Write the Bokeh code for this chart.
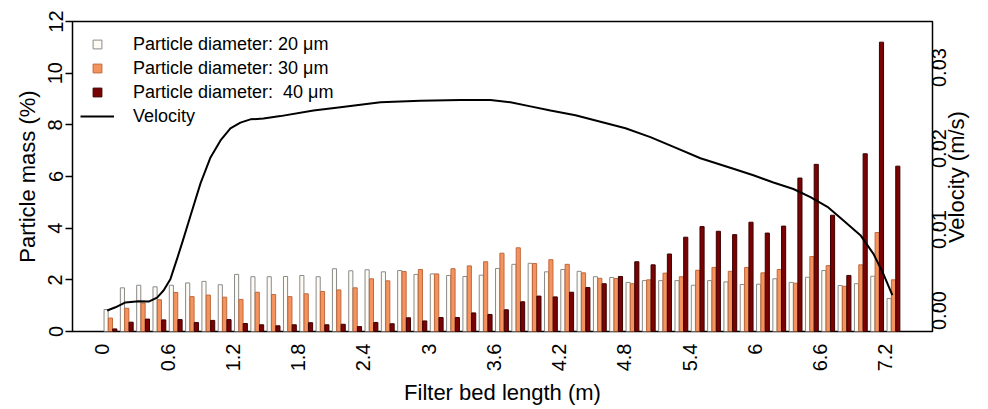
import math
from bokeh.plotting import figure
from bokeh.models import (ColumnDataSource, Range1d, LinearAxis, FixedTicker,
                          CustomJSTickFormatter, PrintfTickFormatter, Legend, LegendItem)
from bokeh.transform import dodge
from bokeh.embed import file_html
from bokeh.resources import INLINE

FONT = "Liberation Sans"

# ---- data ----
bed_position = [0.075, 0.225, 0.375, 0.525, 0.675, 0.825, 0.975, 1.125, 1.275, 1.425,
                1.575, 1.725, 1.875, 2.025, 2.175, 2.325, 2.475, 2.625, 2.775, 2.925,
                3.075, 3.225, 3.375, 3.525, 3.675, 3.825, 3.975, 4.125, 4.275, 4.425,
                4.575, 4.725, 4.875, 5.025, 5.175, 5.325, 5.475, 5.625, 5.775, 5.925,
                6.075, 6.225, 6.375, 6.525, 6.675, 6.825, 6.975, 7.125, 7.275]
mass_20um = [0.85, 1.69, 1.79, 1.73, 1.79, 1.88, 1.94, 1.81, 2.21, 2.12,
             2.12, 2.13, 2.17, 2.12, 2.43, 2.35, 2.39, 2.31, 2.36, 2.21,
             2.23, 2.17, 2.13, 2.18, 2.44, 2.60, 2.64, 2.31, 2.40, 2.33,
             2.12, 2.09, 1.90, 1.97, 1.97, 1.97, 1.79, 1.97, 1.92, 1.82,
             1.83, 2.04, 1.90, 2.10, 2.36, 1.78, 1.85, 2.14, 1.28]
mass_30um = [0.52, 0.90, 1.10, 1.23, 1.51, 1.35, 1.41, 1.33, 1.24, 1.52,
             1.43, 1.35, 1.46, 1.55, 1.61, 1.69, 2.04, 1.96, 2.32, 2.40,
             2.23, 2.43, 2.54, 2.70, 3.03, 3.24, 2.63, 2.78, 2.60, 2.27,
             2.06, 2.05, 1.85, 2.00, 2.26, 2.12, 2.37, 2.48, 2.33, 2.48,
             2.27, 2.40, 1.87, 2.90, 2.55, 1.75, 2.58, 3.83, 2.00]
mass_40um = [0.10, 0.36, 0.48, 0.45, 0.46, 0.35, 0.43, 0.46, 0.31, 0.26,
             0.22, 0.26, 0.34, 0.26, 0.28, 0.19, 0.35, 0.30, 0.53, 0.41,
             0.54, 0.54, 0.72, 0.66, 0.84, 1.15, 1.37, 1.34, 1.52, 1.70,
             1.85, 2.13, 2.70, 2.58, 3.00, 3.65, 4.06, 3.88, 3.75, 4.23,
             3.81, 4.08, 5.94, 6.47, 4.50, 2.17, 6.88, 11.20, 6.40]

vel_position = [0.045, 0.121, 0.213, 0.335, 0.427, 0.504, 0.565, 0.627, 0.688, 0.740,
                0.811, 0.903, 0.995, 1.087, 1.178, 1.270, 1.362, 1.482, 1.638, 1.942,
                2.190, 2.558, 2.925, 3.293, 3.569, 3.753, 3.937, 4.121, 4.351, 4.581,
                4.811, 5.040, 5.270, 5.500, 5.803, 5.987, 6.171, 6.355, 6.512, 6.668,
                6.815, 6.971, 7.091, 7.183, 7.265]
velocity = [0.0000, 0.0004, 0.0010, 0.00115, 0.0011, 0.0016, 0.0025, 0.0039, 0.0064, 0.0086,
            0.0117, 0.0157, 0.0189, 0.0210, 0.0225, 0.0232, 0.0236, 0.0237, 0.0240, 0.0247,
            0.0251, 0.0257, 0.0259, 0.0260, 0.0260, 0.0257, 0.0252, 0.0247, 0.0241, 0.0233,
            0.0225, 0.0214, 0.0201, 0.0188, 0.0175, 0.0167, 0.0158, 0.0150, 0.0140, 0.0128,
            0.0111, 0.0093, 0.0070, 0.0045, 0.0019]

x_tick_values = [0, 0.6, 1.2, 1.8, 2.4, 3, 3.6, 4.2, 4.8, 5.4, 6, 6.6, 7.2]
y_tick_values = [0, 2, 4, 6, 8, 10, 12]
vel_tick_values = [0.0, 0.01, 0.02, 0.03]

series_labels = ["Particle diameter: 20 \u03bcm", "Particle diameter: 30 \u03bcm",
                 "Particle diameter:  40 \u03bcm"]
velocity_label = "Velocity"
x_title = "Filter bed length (m)"
y_title = "Particle mass (%)"
vel_title = "Velocity (m/s)"

# ---- styles ----
fills = ["#fdfbf4", "#f5935f", "#790202"]
edges = ["#8a8a8a", "#c0693c", "#3c0000"]
offsets = [-0.04, 0.0, 0.04]
bar_w = 0.038
VEL_START, VEL_END = -0.00259, 0.03568
FRAME_H = 310
TICK_FS = "20px"
TITLE_FS = "22px"
# rotated right-side texts are anchored at their start; shift their helper axes
# by half of the text length so that they end up centred on the ticks
px_per_vel = FRAME_H / (VEL_END - VEL_START)
LBL_SHIFT = 19.5 / px_per_vel      # half length of "0.00" at 20px
TTL_SHIFT = 66.6 / px_per_vel      # half length of the title at 22px
VEL_MID = (VEL_START + VEL_END) / 2

src = ColumnDataSource(dict(x=bed_position, m20=mass_20um, m30=mass_30um, m40=mass_40um))

p = figure(frame_width=860, frame_height=FRAME_H,
           x_range=Range1d(-0.274, 7.634), y_range=Range1d(0, 12),
           output_backend="svg", toolbar_location=None,
           min_border_left=72, min_border_top=21, min_border_right=56, min_border_bottom=0,
           background_fill_color="white", border_fill_color="white")
p.extra_y_ranges = {"vel": Range1d(VEL_START, VEL_END),
                    "vel_lbl": Range1d(VEL_START + LBL_SHIFT, VEL_END + LBL_SHIFT),
                    "vel_ttl": Range1d(VEL_START + TTL_SHIFT, VEL_END + TTL_SHIFT)}
p.xgrid.visible = False
p.ygrid.visible = False
p.outline_line_color = "black"
p.outline_line_width = 1.5
p.outline_line_alpha = 1.0

# bars
for col, off, fc, lc in zip(["m20", "m30", "m40"], offsets, fills, edges):
    p.vbar(x=dodge("x", off), top=col, bottom=0, width=bar_w, source=src,
           fill_color=fc, line_color=lc, line_width=1)

# velocity line
vline = p.line(vel_position, velocity, y_range_name="vel", line_color="black", line_width=2)

# legend proxies (not drawn in the plot area)
nan = float("nan")
leg_r = []
for fc, lc in zip(fills, edges):
    leg_r.append(p.scatter(x=[nan], y=[nan], marker="square", size=8,
                           fill_color=fc, line_color=lc))

legend = Legend(items=[LegendItem(label=series_labels[0], renderers=[leg_r[0]]),
                       LegendItem(label=series_labels[1], renderers=[leg_r[1]]),
                       LegendItem(label=series_labels[2], renderers=[leg_r[2]]),
                       LegendItem(label=velocity_label, renderers=[vline])],
                location=(8, 204), glyph_width=34, glyph_height=22, label_height=22,
                label_standoff=19, spacing=2, padding=0, margin=0, border_line_color=None,
                background_fill_alpha=0, label_text_font=FONT,
                label_text_font_size="18px", label_text_color="black")
p.add_layout(legend)

# x axis
xa = p.xaxis[0]
xa.ticker = FixedTicker(ticks=x_tick_values)
xa.formatter = CustomJSTickFormatter(code="return String(Number(tick.toFixed(1)));")
xa.major_label_orientation = math.pi / 2
xa.major_tick_out = 0
xa.major_tick_in = 0
xa.minor_tick_line_color = None
xa.major_tick_line_color = None
xa.axis_line_color = None
xa.major_label_standoff = 12
xa.major_label_text_font = FONT
xa.major_label_text_font_size = TICK_FS
xa.major_label_text_color = "black"
xa.axis_label = x_title
xa.axis_label_text_font = FONT
xa.axis_label_text_font_size = TITLE_FS
xa.axis_label_text_font_style = "normal"
xa.axis_label_text_color = "black"
xa.axis_label_standoff = 6

# left axis
ya = p.yaxis[0]
ya.ticker = FixedTicker(ticks=y_tick_values)
ya.major_label_orientation = "parallel"
ya.major_tick_out = 7
ya.major_tick_in = 0
ya.major_tick_line_color = "black"
ya.major_tick_line_width = 1.5
ya.minor_tick_line_color = None
ya.axis_line_color = None
ya.major_label_standoff = 3
ya.major_label_text_font = FONT
ya.major_label_text_font_size = TICK_FS
ya.major_label_text_color = "black"
ya.axis_label = y_title
ya.axis_label_text_font = FONT
ya.axis_label_text_font_size = TITLE_FS
ya.axis_label_text_font_style = "normal"
ya.axis_label_text_color = "black"
ya.axis_label_standoff = 6

# right axis (tick marks)
ra = LinearAxis(y_range_name="vel", ticker=FixedTicker(ticks=vel_tick_values),
                formatter=CustomJSTickFormatter(code="return '';"))
ra.major_tick_out = 6
ra.major_tick_in = 0
ra.major_tick_line_color = "black"
ra.major_tick_line_width = 1.5
ra.minor_tick_line_color = None
ra.axis_line_color = None
ra.major_label_standoff = 0
p.add_layout(ra, "right")

# right axis tick labels (reading bottom to top)
rl = LinearAxis(y_range_name="vel_lbl", ticker=FixedTicker(ticks=vel_tick_values),
                formatter=PrintfTickFormatter(format="%.2f"))
rl.major_label_orientation = math.pi / 2
rl.major_tick_out = 0
rl.major_tick_in = 0
rl.major_tick_line_color = None
rl.minor_tick_line_color = None
rl.axis_line_color = None
rl.major_label_standoff = 1
rl.major_label_text_font = FONT
rl.major_label_text_font_size = TICK_FS
rl.major_label_text_color = "black"
p.add_layout(rl, "right")

# right axis title (reading bottom to top)
rt = LinearAxis(y_range_name="vel_ttl", ticker=FixedTicker(ticks=[VEL_MID]),
                formatter=CustomJSTickFormatter(args=dict(t=vel_title), code="return t;"))
rt.major_label_orientation = math.pi / 2
rt.major_tick_out = 0
rt.major_tick_in = 0
rt.major_tick_line_color = None
rt.minor_tick_line_color = None
rt.axis_line_color = None
rt.major_label_standoff = 0
rt.major_label_text_font = FONT
rt.major_label_text_font_size = TITLE_FS
rt.major_label_text_color = "black"
p.add_layout(rt, "right")

open("out.html", "w").write(file_html(p, INLINE))
